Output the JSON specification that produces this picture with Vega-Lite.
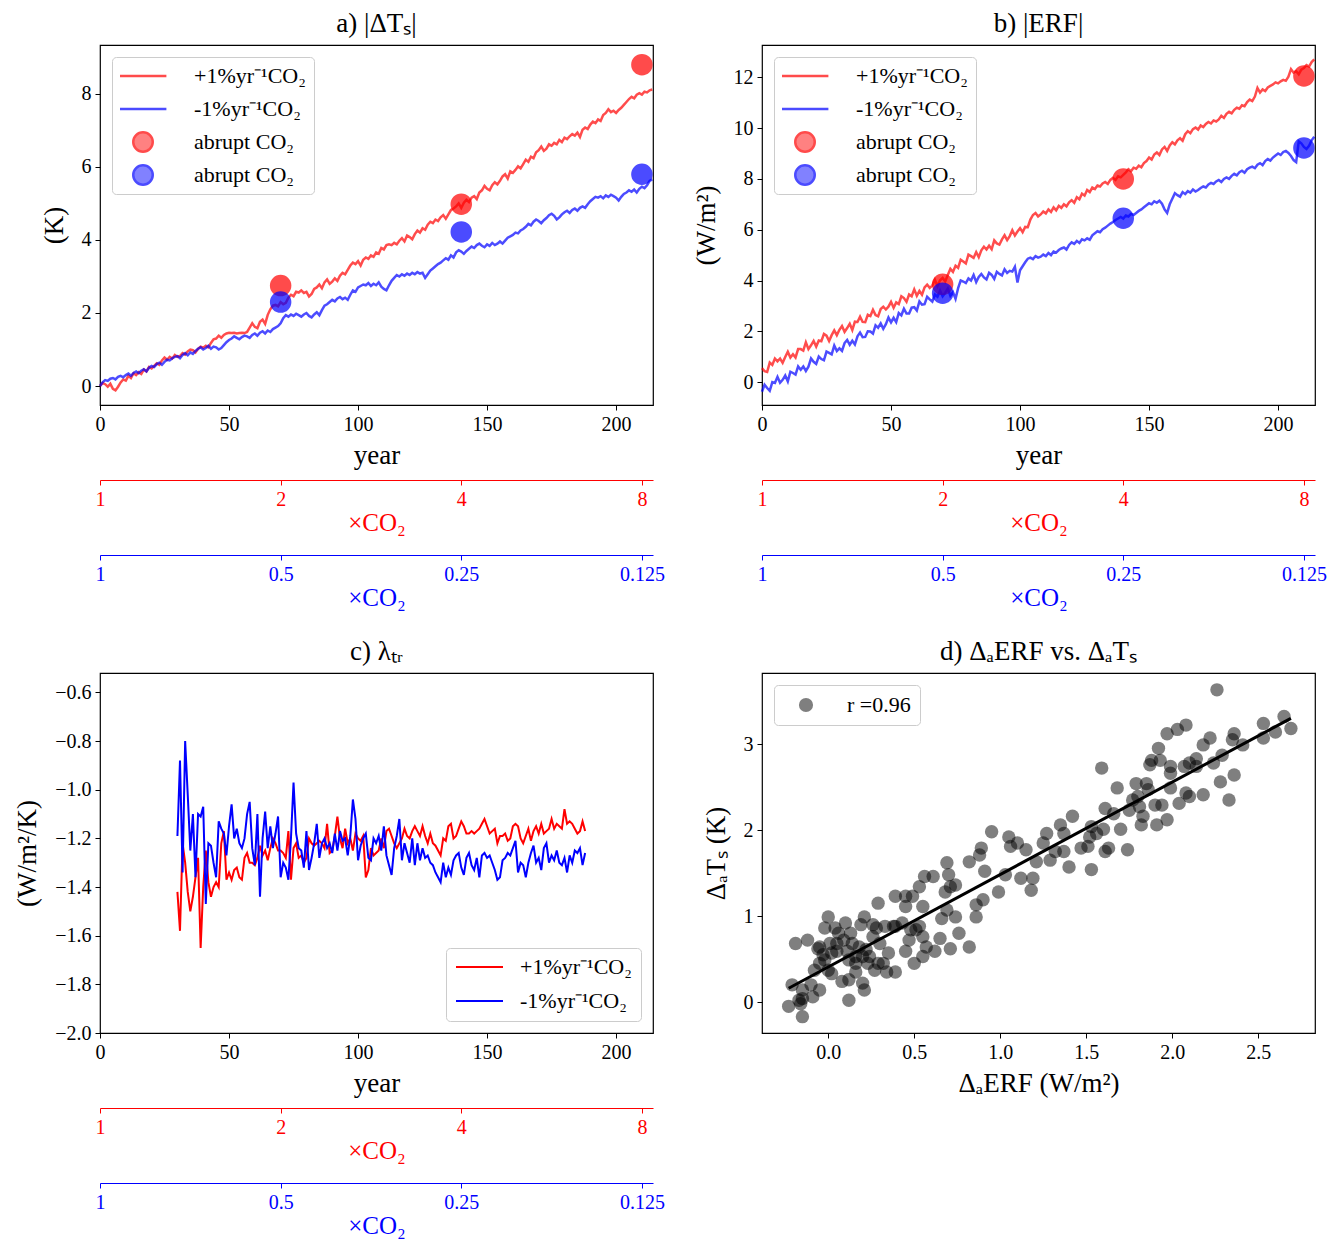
{
"$schema":"https://vega.github.io/schema/vega-lite/v6.json",
"background":"white",
"padding":{"left":13,"top":9,"right":5,"bottom":2},
"config":{
 "font":"Liberation Serif",
 "view":{"stroke":"black","strokeWidth":1.2},
 "axis":{"grid":false,"domain":false,"labelFont":"Liberation Serif","labelFontSize":20,"labelColor":"black","titleFont":"Liberation Serif","titleFontSize":27,"titleFontWeight":"normal","titleColor":"black","tickColor":"black","tickSize":5,"tickWidth":1,"labelPadding":4,"labelFlush":false,"labelOverlap":false,"titlePadding":8},
 "axisY":{"titlePadding":13},
 "title":{"font":"Liberation Serif","fontSize":27,"fontWeight":"normal","color":"black","offset":7,"frame":"group"},
 "legend":{"labelFont":"Liberation Serif","labelFontSize":22,"labelColor":"black","fillColor":"white","strokeColor":"#cccccc","cornerRadius":4,"padding":8}
},
"datasets":{
 "co2T":[{"t":0},{"t":70},{"t":140},{"t":210}],
 "ptsA":[{"t":70,"v":2.75,"s":"ua"},{"t":140,"v":4.98,"s":"ua"},{"t":210,"v":8.8,"s":"ua"},{"t":70,"v":2.3,"s":"da"},{"t":140,"v":4.22,"s":"da"},{"t":210,"v":5.8,"s":"da"}],
 "ptsB":[{"t":70,"v":3.85,"s":"ua"},{"t":140,"v":8.0,"s":"ua"},{"t":210,"v":12.05,"s":"ua"},{"t":70,"v":3.5,"s":"da"},{"t":140,"v":6.45,"s":"da"},{"t":210,"v":9.22,"s":"da"}],
 "lines":[
{"t":0,"ar":0,"ab":0,"br":0.55,"bb":-0.38},{"t":1,"ar":0.08,"ab":0.1,"br":0.43,"bb":-0.1},{"t":2,"ar":0.05,"ab":0.16,"br":0.4,"bb":-0.23},{"t":3,"ar":-0.02,"ab":0.14,"br":0.77,"bb":-0.34},{"t":4,"ar":0.06,"ab":0.2,"br":0.68,"bb":0.0},{"t":5,"ar":-0.08,"ab":0.22,"br":0.93,"bb":-0.03},{"t":6,"ar":-0.12,"ab":0.18,"br":0.82,"bb":0.21},{"t":7,"ar":-0.02,"ab":0.25,"br":0.93,"bb":-0.02},{"t":8,"ar":0.1,"ab":0.28,"br":0.76,"bb":0.09},{"t":9,"ar":0.18,"ab":0.24,"br":0.99,"bb":0.26},
{"t":10,"ar":0.15,"ab":0.3,"br":1.2,"bb":0.03},{"t":11,"ar":0.28,"ab":0.34,"br":0.97,"bb":0.41},{"t":12,"ar":0.22,"ab":0.28,"br":1.1,"bb":0.36},{"t":13,"ar":0.35,"ab":0.36,"br":0.97,"bb":0.3},{"t":14,"ar":0.3,"ab":0.4,"br":1.3,"bb":0.62},{"t":15,"ar":0.38,"ab":0.35,"br":1.3,"bb":0.49},{"t":16,"ar":0.33,"ab":0.42,"br":1.24,"bb":0.62},{"t":17,"ar":0.45,"ab":0.46,"br":1.57,"bb":0.44},{"t":18,"ar":0.4,"ab":0.4,"br":1.3,"bb":0.61},{"t":19,"ar":0.52,"ab":0.5,"br":1.45,"bb":0.93},
{"t":20,"ar":0.48,"ab":0.55,"br":1.62,"bb":0.8},{"t":21,"ar":0.55,"ab":0.52,"br":1.4,"bb":0.72},{"t":22,"ar":0.62,"ab":0.6,"br":1.64,"bb":1.01},{"t":23,"ar":0.58,"ab":0.64,"br":1.61,"bb":0.91},{"t":24,"ar":0.7,"ab":0.58,"br":1.9,"bb":0.86},{"t":25,"ar":0.78,"ab":0.66,"br":1.83,"bb":1.2},{"t":26,"ar":0.72,"ab":0.72,"br":1.62,"bb":1.15},{"t":27,"ar":0.8,"ab":0.7,"br":1.85,"bb":1.09},{"t":28,"ar":0.75,"ab":0.76,"br":2.04,"bb":1.44},{"t":29,"ar":0.85,"ab":0.8,"br":1.85,"bb":1.22},
{"t":30,"ar":0.8,"ab":0.82,"br":2.06,"bb":1.33},{"t":31,"ar":0.82,"ab":0.76,"br":2.21,"bb":1.23},{"t":32,"ar":0.9,"ab":0.85,"br":1.98,"bb":1.54},{"t":33,"ar":0.86,"ab":0.9,"br":2.13,"bb":1.66},{"t":34,"ar":0.95,"ab":0.84,"br":2.3,"bb":1.47},{"t":35,"ar":1.0,"ab":0.92,"br":2.05,"bb":1.63},{"t":36,"ar":0.98,"ab":0.88,"br":2.38,"bb":1.48},{"t":37,"ar":0.92,"ab":0.96,"br":2.37,"bb":1.8},{"t":38,"ar":1.02,"ab":1.02,"br":2.58,"bb":1.95},{"t":39,"ar":1.08,"ab":1.06,"br":2.37,"bb":1.77},
{"t":40,"ar":1.05,"ab":1.0,"br":2.36,"bb":1.78},{"t":41,"ar":1.1,"ab":1.04,"br":2.65,"bb":2.0},{"t":42,"ar":1.06,"ab":1.1,"br":2.6,"bb":1.99},{"t":43,"ar":1.18,"ab":1.02,"br":2.85,"bb":1.91},{"t":44,"ar":1.28,"ab":1.08,"br":2.64,"bb":2.24},{"t":45,"ar":1.3,"ab":1.06,"br":2.59,"bb":2.14},{"t":46,"ar":1.38,"ab":1.0,"br":2.88,"bb":2.31},{"t":47,"ar":1.32,"ab":1.04,"br":2.97,"bb":2.1},{"t":48,"ar":1.4,"ab":1.12,"br":2.86,"bb":2.28},{"t":49,"ar":1.44,"ab":1.2,"br":2.97,"bb":2.54},
{"t":50,"ar":1.46,"ab":1.26,"br":3.16,"bb":2.35},{"t":51,"ar":1.45,"ab":1.3,"br":2.93,"bb":2.53},{"t":52,"ar":1.46,"ab":1.36,"br":3.14,"bb":2.36},{"t":53,"ar":1.44,"ab":1.32,"br":3.07,"bb":2.72},{"t":54,"ar":1.45,"ab":1.28,"br":3.38,"bb":2.63},{"t":55,"ar":1.46,"ab":1.34,"br":3.31,"bb":2.89},{"t":56,"ar":1.45,"ab":1.38,"br":3.16,"bb":2.7},{"t":57,"ar":1.48,"ab":1.36,"br":3.45,"bb":2.7},{"t":58,"ar":1.6,"ab":1.32,"br":3.38,"bb":2.93},{"t":59,"ar":1.72,"ab":1.4,"br":3.65,"bb":2.95},
{"t":60,"ar":1.62,"ab":1.44,"br":3.4,"bb":2.82},{"t":61,"ar":1.58,"ab":1.38,"br":3.59,"bb":3.18},{"t":62,"ar":1.76,"ab":1.46,"br":3.44,"bb":3.05},{"t":63,"ar":1.82,"ab":1.5,"br":3.73,"bb":3.07},{"t":64,"ar":1.7,"ab":1.44,"br":3.84,"bb":3.36},{"t":65,"ar":1.95,"ab":1.52,"br":3.71,"bb":3.26},{"t":66,"ar":2.1,"ab":1.48,"br":3.8,"bb":3.17},{"t":67,"ar":2.2,"ab":1.56,"br":4.03,"bb":3.45},{"t":68,"ar":2.22,"ab":1.6,"br":3.78,"bb":3.36},{"t":69,"ar":2.18,"ab":1.64,"br":4.01,"bb":3.6},
{"t":70,"ar":2.3,"ab":1.72,"br":4.1,"bb":3.38},{"t":71,"ar":2.24,"ab":1.86,"br":3.96,"bb":3.52},{"t":72,"ar":2.28,"ab":1.94,"br":4.22,"bb":3.68},{"t":73,"ar":2.42,"ab":1.9,"br":4.46,"bb":3.4},{"t":74,"ar":2.5,"ab":1.96,"br":4.34,"bb":3.54},{"t":75,"ar":2.46,"ab":1.92,"br":4.58,"bb":3.28},{"t":76,"ar":2.58,"ab":1.98,"br":4.5,"bb":3.7},{"t":77,"ar":2.56,"ab":1.94,"br":4.82,"bb":4.0},{"t":78,"ar":2.62,"ab":1.9,"br":4.75,"bb":3.96},{"t":79,"ar":2.55,"ab":1.96,"br":4.67,"bb":3.9},
{"t":80,"ar":2.58,"ab":2.0,"br":5.02,"bb":4.08},{"t":81,"ar":2.45,"ab":1.92,"br":4.96,"bb":4.0},{"t":82,"ar":2.52,"ab":1.88,"br":4.89,"bb":4.22},{"t":83,"ar":2.66,"ab":1.96,"br":5.12,"bb":3.94},{"t":84,"ar":2.7,"ab":2.02,"br":4.92,"bb":4.14},{"t":85,"ar":2.78,"ab":1.94,"br":5.19,"bb":4.26},{"t":86,"ar":2.68,"ab":2.08,"br":5.33,"bb":4.12},{"t":87,"ar":2.84,"ab":2.2,"br":5.22,"bb":4.04},{"t":88,"ar":2.92,"ab":2.24,"br":5.37,"bb":4.3},{"t":89,"ar":2.8,"ab":2.3,"br":5.23,"bb":4.22},
{"t":90,"ar":2.86,"ab":2.36,"br":5.58,"bb":4.06},{"t":91,"ar":2.95,"ab":2.32,"br":5.46,"bb":4.34},{"t":92,"ar":2.88,"ab":2.4,"br":5.41,"bb":4.26},{"t":93,"ar":3.02,"ab":2.44,"br":5.62,"bb":4.2},{"t":94,"ar":3.1,"ab":2.38,"br":5.78,"bb":4.44},{"t":95,"ar":3.06,"ab":2.42,"br":5.59,"bb":4.3},{"t":96,"ar":3.18,"ab":2.36,"br":5.75,"bb":4.38},{"t":97,"ar":3.3,"ab":2.5,"br":5.98,"bb":4.35},{"t":98,"ar":3.38,"ab":2.62,"br":5.77,"bb":4.54},{"t":99,"ar":3.34,"ab":2.58,"br":5.93,"bb":3.92},
{"t":100,"ar":3.42,"ab":2.7,"br":6.06,"bb":4.4},{"t":101,"ar":3.3,"ab":2.74,"br":5.9,"bb":4.56},{"t":102,"ar":3.46,"ab":2.78,"br":6.11,"bb":4.72},{"t":103,"ar":3.52,"ab":2.76,"br":6.1,"bb":4.86},{"t":104,"ar":3.48,"ab":2.82,"br":6.4,"bb":4.9},{"t":105,"ar":3.58,"ab":2.74,"br":6.58,"bb":4.84},{"t":106,"ar":3.54,"ab":2.8,"br":6.66,"bb":4.96},{"t":107,"ar":3.66,"ab":2.76,"br":6.52,"bb":4.9},{"t":108,"ar":3.62,"ab":2.84,"br":6.6,"bb":4.94},{"t":109,"ar":3.78,"ab":2.72,"br":6.72,"bb":5.02},
{"t":110,"ar":3.74,"ab":2.66,"br":6.64,"bb":4.96},{"t":111,"ar":3.86,"ab":2.62,"br":6.8,"bb":5.08},{"t":112,"ar":3.88,"ab":2.76,"br":6.7,"bb":5.0},{"t":113,"ar":3.86,"ab":2.88,"br":6.88,"bb":5.14},{"t":114,"ar":3.92,"ab":2.96,"br":6.76,"bb":5.1},{"t":115,"ar":3.88,"ab":3.04,"br":6.94,"bb":5.2},{"t":116,"ar":3.98,"ab":3.0,"br":6.86,"bb":5.26},{"t":117,"ar":4.05,"ab":3.06,"br":7.0,"bb":5.3},{"t":118,"ar":3.96,"ab":3.02,"br":6.92,"bb":5.22},{"t":119,"ar":4.12,"ab":3.08,"br":7.08,"bb":5.4},
{"t":120,"ar":4.08,"ab":3.04,"br":7.16,"bb":5.5},{"t":121,"ar":4.02,"ab":3.1,"br":7.06,"bb":5.44},{"t":122,"ar":4.16,"ab":3.06,"br":7.28,"bb":5.56},{"t":123,"ar":4.26,"ab":3.12,"br":7.2,"bb":5.48},{"t":124,"ar":4.2,"ab":3.08,"br":7.42,"bb":5.62},{"t":125,"ar":4.32,"ab":3.1,"br":7.34,"bb":5.58},{"t":126,"ar":4.28,"ab":2.96,"br":7.56,"bb":5.66},{"t":127,"ar":4.42,"ab":3.06,"br":7.48,"bb":5.6},{"t":128,"ar":4.5,"ab":3.16,"br":7.66,"bb":5.78},{"t":129,"ar":4.46,"ab":3.22,"br":7.6,"bb":5.86},
{"t":130,"ar":4.56,"ab":3.28,"br":7.74,"bb":5.94},{"t":131,"ar":4.52,"ab":3.34,"br":7.7,"bb":5.9},{"t":132,"ar":4.62,"ab":3.38,"br":7.82,"bb":6.02},{"t":133,"ar":4.68,"ab":3.44,"br":7.88,"bb":6.08},{"t":134,"ar":4.58,"ab":3.5,"br":7.8,"bb":6.16},{"t":135,"ar":4.7,"ab":3.46,"br":7.96,"bb":6.24},{"t":136,"ar":4.82,"ab":3.58,"br":8.04,"bb":6.3},{"t":137,"ar":4.86,"ab":3.52,"br":7.96,"bb":6.38},{"t":138,"ar":4.92,"ab":3.66,"br":8.1,"bb":6.44},{"t":139,"ar":5.0,"ab":3.72,"br":8.06,"bb":6.5},
{"t":140,"ar":4.88,"ab":3.68,"br":8.16,"bb":6.44},{"t":141,"ar":5.02,"ab":3.62,"br":8.26,"bb":6.56},{"t":142,"ar":5.1,"ab":3.7,"br":8.38,"bb":6.52},{"t":143,"ar":5.04,"ab":3.76,"br":8.3,"bb":6.62},{"t":144,"ar":5.16,"ab":3.82,"br":8.44,"bb":6.58},{"t":145,"ar":5.2,"ab":3.78,"br":8.4,"bb":6.66},{"t":146,"ar":5.12,"ab":3.86,"br":8.52,"bb":6.74},{"t":147,"ar":5.3,"ab":3.9,"br":8.46,"bb":6.8},{"t":148,"ar":5.36,"ab":3.84,"br":8.62,"bb":6.88},{"t":149,"ar":5.48,"ab":3.8,"br":8.7,"bb":6.96},
{"t":150,"ar":5.4,"ab":3.88,"br":8.84,"bb":7.04},{"t":151,"ar":5.36,"ab":3.84,"br":8.76,"bb":7.0},{"t":152,"ar":5.5,"ab":3.92,"br":8.96,"bb":7.12},{"t":153,"ar":5.58,"ab":3.86,"br":9.04,"bb":7.06},{"t":154,"ar":5.52,"ab":3.9,"br":8.94,"bb":7.14},{"t":155,"ar":5.62,"ab":3.96,"br":9.16,"bb":7.02},{"t":156,"ar":5.74,"ab":3.9,"br":9.26,"bb":6.8},{"t":157,"ar":5.8,"ab":3.98,"br":9.1,"bb":6.66},{"t":158,"ar":5.68,"ab":4.06,"br":9.32,"bb":7.0},{"t":159,"ar":5.88,"ab":4.1,"br":9.44,"bb":7.22},
{"t":160,"ar":5.84,"ab":4.14,"br":9.36,"bb":7.44},{"t":161,"ar":5.92,"ab":4.2,"br":9.52,"bb":7.36},{"t":162,"ar":6.02,"ab":4.18,"br":9.6,"bb":7.3},{"t":163,"ar":5.96,"ab":4.26,"br":9.5,"bb":7.48},{"t":164,"ar":6.08,"ab":4.3,"br":9.76,"bb":7.4},{"t":165,"ar":6.2,"ab":4.36,"br":9.88,"bb":7.52},{"t":166,"ar":6.14,"ab":4.44,"br":9.8,"bb":7.46},{"t":167,"ar":6.28,"ab":4.4,"br":9.96,"bb":7.58},{"t":168,"ar":6.24,"ab":4.5,"br":10.02,"bb":7.5},{"t":169,"ar":6.4,"ab":4.56,"br":9.94,"bb":7.56},
{"t":170,"ar":6.46,"ab":4.52,"br":10.1,"bb":7.64},{"t":171,"ar":6.56,"ab":4.46,"br":10.04,"bb":7.7},{"t":172,"ar":6.44,"ab":4.54,"br":10.16,"bb":7.66},{"t":173,"ar":6.5,"ab":4.6,"br":10.24,"bb":7.78},{"t":174,"ar":6.62,"ab":4.68,"br":10.18,"bb":7.84},{"t":175,"ar":6.58,"ab":4.72,"br":10.3,"bb":7.8},{"t":176,"ar":6.66,"ab":4.66,"br":10.26,"bb":7.9},{"t":177,"ar":6.62,"ab":4.56,"br":10.34,"bb":7.96},{"t":178,"ar":6.74,"ab":4.62,"br":10.48,"bb":7.88},{"t":179,"ar":6.68,"ab":4.7,"br":10.4,"bb":8.0},
{"t":180,"ar":6.8,"ab":4.76,"br":10.56,"bb":8.06},{"t":181,"ar":6.76,"ab":4.8,"br":10.64,"bb":8.0},{"t":182,"ar":6.84,"ab":4.74,"br":10.58,"bb":8.12},{"t":183,"ar":6.9,"ab":4.82,"br":10.72,"bb":8.2},{"t":184,"ar":6.86,"ab":4.86,"br":10.8,"bb":8.14},{"t":185,"ar":6.94,"ab":4.8,"br":10.76,"bb":8.26},{"t":186,"ar":6.82,"ab":4.88,"br":10.9,"bb":8.32},{"t":187,"ar":7.02,"ab":4.92,"br":10.86,"bb":8.24},{"t":188,"ar":7.08,"ab":4.88,"br":11.02,"bb":8.38},{"t":189,"ar":7.04,"ab":4.98,"br":11.12,"bb":8.44},
{"t":190,"ar":7.16,"ab":5.06,"br":11.06,"bb":8.48},{"t":191,"ar":7.24,"ab":5.12,"br":11.24,"bb":8.42},{"t":192,"ar":7.2,"ab":5.18,"br":11.58,"bb":8.56},{"t":193,"ar":7.3,"ab":5.16,"br":11.4,"bb":8.62},{"t":194,"ar":7.26,"ab":5.2,"br":11.52,"bb":8.54},{"t":195,"ar":7.42,"ab":5.14,"br":11.46,"bb":8.7},{"t":196,"ar":7.48,"ab":5.22,"br":11.6,"bb":8.78},{"t":197,"ar":7.58,"ab":5.18,"br":11.66,"bb":8.72},{"t":198,"ar":7.5,"ab":5.24,"br":11.72,"bb":8.84},{"t":199,"ar":7.54,"ab":5.2,"br":11.8,"bb":8.92},
{"t":200,"ar":7.48,"ab":5.16,"br":11.76,"bb":9.0},{"t":201,"ar":7.56,"ab":5.08,"br":11.84,"bb":8.94},{"t":202,"ar":7.62,"ab":5.18,"br":11.9,"bb":9.06},{"t":203,"ar":7.7,"ab":5.26,"br":11.86,"bb":9.1},{"t":204,"ar":7.78,"ab":5.3,"br":12.02,"bb":9.02},{"t":205,"ar":7.86,"ab":5.36,"br":12.32,"bb":8.9},{"t":206,"ar":7.92,"ab":5.32,"br":12.18,"bb":8.74},{"t":207,"ar":7.88,"ab":5.38,"br":12.24,"bb":8.66},{"t":208,"ar":7.98,"ab":5.3,"br":12.12,"bb":9.48},{"t":209,"ar":8.02,"ab":5.4,"br":12.3,"bb":9.4},
{"t":210,"ar":7.98,"ab":5.46,"br":12.36,"bb":9.26},{"t":211,"ar":8.06,"ab":5.42,"br":12.48,"bb":9.18},{"t":212,"ar":8.04,"ab":5.5,"br":12.42,"bb":9.3},{"t":213,"ar":8.1,"ab":5.62,"br":12.6,"bb":9.52},{"t":214,"ar":8.12,"ab":5.66,"br":12.7,"bb":9.66}
 ],
 "lam":[
{"t":30,"r":-1.42,"b":-1.19},{"t":31,"r":-1.58,"b":-0.88},{"t":32,"r":-1.22,"b":-1.34},{"t":33,"r":-1.3,"b":-0.8},{"t":34,"r":-1.42,"b":-1.02},{"t":35,"r":-1.5,"b":-1.25},{"t":36,"r":-1.44,"b":-1.1},{"t":37,"r":-1.36,"b":-1.36},{"t":38,"r":-1.28,"b":-1.1},{"t":39,"r":-1.65,"b":-1.11},
{"t":40,"r":-1.4,"b":-1.07},{"t":41,"r":-1.25,"b":-1.47},{"t":42,"r":-1.38,"b":-1.22},{"t":43,"r":-1.44,"b":-1.23},{"t":44,"r":-1.4,"b":-1.3},{"t":45,"r":-1.38,"b":-1.36},{"t":46,"r":-1.4,"b":-1.13},{"t":47,"r":-1.22,"b":-1.16},{"t":48,"r":-1.17,"b":-1.18},{"t":49,"r":-1.37,"b":-1.27},
{"t":50,"r":-1.34,"b":-1.15},{"t":51,"r":-1.37,"b":-1.06},{"t":52,"r":-1.33,"b":-1.2},{"t":53,"r":-1.32,"b":-1.16},{"t":54,"r":-1.36,"b":-1.22},{"t":55,"r":-1.37,"b":-1.24},{"t":56,"r":-1.28,"b":-1.2},{"t":57,"r":-1.26,"b":-1.1},{"t":58,"r":-1.3,"b":-1.05},{"t":59,"r":-1.3,"b":-1.24},
{"t":60,"r":-1.31,"b":-1.31},{"t":61,"r":-1.28,"b":-1.1},{"t":62,"r":-1.23,"b":-1.44},{"t":63,"r":-1.27,"b":-1.2},{"t":64,"r":-1.25,"b":-1.09},{"t":65,"r":-1.29,"b":-1.24},{"t":66,"r":-1.24,"b":-1.15},{"t":67,"r":-1.2,"b":-1.24},{"t":68,"r":-1.22,"b":-1.18},{"t":69,"r":-1.25,"b":-1.11},
{"t":70,"r":-1.25,"b":-1.36},{"t":71,"r":-1.26,"b":-1.3},{"t":72,"r":-1.28,"b":-1.32},{"t":73,"r":-1.17,"b":-1.37},{"t":74,"r":-1.37,"b":-1.2},{"t":75,"r":-1.24,"b":-0.97},{"t":76,"r":-1.22,"b":-1.18},{"t":77,"r":-1.28,"b":-1.24},{"t":78,"r":-1.27,"b":-1.25},{"t":79,"r":-1.3,"b":-1.32},
{"t":80,"r":-1.28,"b":-1.17},{"t":81,"r":-1.2,"b":-1.33},{"t":82,"r":-1.22,"b":-1.28},{"t":83,"r":-1.23,"b":-1.22},{"t":84,"r":-1.22,"b":-1.14},{"t":85,"r":-1.21,"b":-1.28},{"t":86,"r":-1.22,"b":-1.22},{"t":87,"r":-1.24,"b":-1.2},{"t":88,"r":-1.14,"b":-1.24},{"t":89,"r":-1.26,"b":-1.22},
{"t":90,"r":-1.25,"b":-1.26},{"t":91,"r":-1.19,"b":-1.18},{"t":92,"r":-1.11,"b":-1.25},{"t":93,"r":-1.2,"b":-1.17},{"t":94,"r":-1.24,"b":-1.21},{"t":95,"r":-1.16,"b":-1.2},{"t":96,"r":-1.22,"b":-1.27},{"t":97,"r":-1.2,"b":-1.19},{"t":98,"r":-1.25,"b":-1.04},{"t":99,"r":-1.18,"b":-1.12},
{"t":100,"r":-1.2,"b":-1.29},{"t":101,"r":-1.21,"b":-1.23},{"t":102,"r":-1.19,"b":-1.2},{"t":103,"r":-1.36,"b":-1.18},{"t":104,"r":-1.33,"b":-1.28},{"t":105,"r":-1.24,"b":-1.29},{"t":106,"r":-1.27,"b":-1.2},{"t":107,"r":-1.26,"b":-1.22},{"t":108,"r":-1.25,"b":-1.19},{"t":109,"r":-1.2,"b":-1.25},
{"t":110,"r":-1.24,"b":-1.15},{"t":111,"r":-1.17,"b":-1.27},{"t":112,"r":-1.16,"b":-1.31},{"t":113,"r":-1.19,"b":-1.35},{"t":114,"r":-1.22,"b":-1.24},{"t":115,"r":-1.24,"b":-1.19},{"t":116,"r":-1.22,"b":-1.12},{"t":117,"r":-1.2,"b":-1.29},{"t":118,"r":-1.16,"b":-1.22},{"t":119,"r":-1.19,"b":-1.26},
{"t":120,"r":-1.2,"b":-1.3},{"t":121,"r":-1.17,"b":-1.2},{"t":122,"r":-1.15,"b":-1.31},{"t":123,"r":-1.17,"b":-1.22},{"t":124,"r":-1.19,"b":-1.29},{"t":125,"r":-1.15,"b":-1.24},{"t":126,"r":-1.19,"b":-1.28},{"t":127,"r":-1.22,"b":-1.27},{"t":128,"r":-1.18,"b":-1.3},{"t":129,"r":-1.22,"b":-1.31},
{"t":130,"r":-1.23,"b":-1.34},{"t":131,"r":-1.25,"b":-1.36},{"t":132,"r":-1.27,"b":-1.38},{"t":133,"r":-1.2,"b":-1.3},{"t":134,"r":-1.21,"b":-1.36},{"t":135,"r":-1.15,"b":-1.32},{"t":136,"r":-1.14,"b":-1.35},{"t":137,"r":-1.2,"b":-1.29},{"t":138,"r":-1.19,"b":-1.27},{"t":139,"r":-1.16,"b":-1.26},
{"t":140,"r":-1.13,"b":-1.32},{"t":141,"r":-1.15,"b":-1.35},{"t":142,"r":-1.18,"b":-1.28},{"t":143,"r":-1.18,"b":-1.26},{"t":144,"r":-1.17,"b":-1.31},{"t":145,"r":-1.18,"b":-1.33},{"t":146,"r":-1.17,"b":-1.28},{"t":147,"r":-1.16,"b":-1.36},{"t":148,"r":-1.14,"b":-1.27},{"t":149,"r":-1.12,"b":-1.26},
{"t":150,"r":-1.15,"b":-1.28},{"t":151,"r":-1.18,"b":-1.27},{"t":152,"r":-1.17,"b":-1.3},{"t":153,"r":-1.16,"b":-1.33},{"t":154,"r":-1.22,"b":-1.37},{"t":155,"r":-1.19,"b":-1.36},{"t":156,"r":-1.19,"b":-1.29},{"t":157,"r":-1.18,"b":-1.28},{"t":158,"r":-1.21,"b":-1.26},{"t":159,"r":-1.2,"b":-1.27},
{"t":160,"r":-1.15,"b":-1.24},{"t":161,"r":-1.14,"b":-1.21},{"t":162,"r":-1.15,"b":-1.34},{"t":163,"r":-1.2,"b":-1.3},{"t":164,"r":-1.22,"b":-1.31},{"t":165,"r":-1.19,"b":-1.36},{"t":166,"r":-1.16,"b":-1.3},{"t":167,"r":-1.21,"b":-1.26},{"t":168,"r":-1.17,"b":-1.23},{"t":169,"r":-1.15,"b":-1.3},
{"t":170,"r":-1.18,"b":-1.28},{"t":171,"r":-1.14,"b":-1.33},{"t":172,"r":-1.18,"b":-1.24},{"t":173,"r":-1.17,"b":-1.22},{"t":174,"r":-1.16,"b":-1.3},{"t":175,"r":-1.12,"b":-1.27},{"t":176,"r":-1.16,"b":-1.29},{"t":177,"r":-1.14,"b":-1.25},{"t":178,"r":-1.15,"b":-1.3},{"t":179,"r":-1.16,"b":-1.31},
{"t":180,"r":-1.08,"b":-1.28},{"t":181,"r":-1.14,"b":-1.34},{"t":182,"r":-1.13,"b":-1.27},{"t":183,"r":-1.14,"b":-1.3},{"t":184,"r":-1.16,"b":-1.25},{"t":185,"r":-1.18,"b":-1.26},{"t":186,"r":-1.17,"b":-1.24},{"t":187,"r":-1.13,"b":-1.31},{"t":188,"r":-1.17,"b":-1.26}
 ],
 "sc":[
{"x":0.95,"y":1.98},{"x":1.05,"y":1.92},{"x":1.06,"y":1.81},{"x":1.1,"y":1.85},{"x":1.15,"y":1.77},{"x":0.89,"y":1.79},{"x":0.88,"y":1.71},{"x":0.82,"y":1.63},{"x":0.69,"y":1.62},{"x":0.91,"y":1.52},
{"x":1.03,"y":1.48},{"x":1.12,"y":1.44},{"x":1.19,"y":1.44},{"x":1.18,"y":1.3},{"x":0.99,"y":1.28},{"x":0.56,"y":1.46},{"x":0.53,"y":1.34},{"x":0.61,"y":1.46},{"x":0.7,"y":1.48},{"x":0.71,"y":1.34},
{"x":0.74,"y":1.36},{"x":0.68,"y":1.28},{"x":0.49,"y":1.23},{"x":0.39,"y":1.23},{"x":0.45,"y":1.23},{"x":0.45,"y":1.11},{"x":0.55,"y":1.11},{"x":0.29,"y":1.15},{"x":0.86,"y":1.13},{"x":0.9,"y":1.19},
{"x":0.86,"y":0.99},{"x":0.74,"y":0.99},{"x":0.69,"y":1.07},{"x":0.66,"y":0.97},{"x":0.82,"y":0.64},{"x":0.76,"y":0.8},{"x":0.65,"y":0.74},{"x":0.71,"y":0.62},{"x":0.62,"y":0.59},{"x":0.57,"y":0.64},
{"x":0.55,"y":0.76},{"x":0.53,"y":0.88},{"x":0.51,"y":0.84},{"x":0.48,"y":0.84},{"x":0.43,"y":0.92},{"x":0.39,"y":0.88},{"x":0.38,"y":0.88},{"x":0.33,"y":0.88},{"x":0.26,"y":0.9},{"x":0.28,"y":0.86},
{"x":0.21,"y":0.99},{"x":0.19,"y":0.9},{"x":0.26,"y":0.76},{"x":0.3,"y":0.68},{"x":0.35,"y":0.57},{"x":0.45,"y":0.59},{"x":0.47,"y":0.72},{"x":0.5,"y":0.45},{"x":0.55,"y":0.53},{"x":0.39,"y":0.35},
{"x":0.34,"y":0.35},{"x":0.29,"y":0.45},{"x":0.27,"y":0.37},{"x":0.24,"y":0.53},{"x":0.22,"y":0.61},{"x":0.18,"y":0.64},{"x":0.14,"y":0.68},{"x":0.13,"y":0.8},{"x":0.1,"y":0.92},{"x":0.06,"y":0.8},
{"x":0.04,"y":0.86},{"x":-0.02,"y":0.86},{"x":0.0,"y":0.99},{"x":-0.05,"y":0.64},{"x":-0.03,"y":0.55},{"x":-0.02,"y":0.49},{"x":0.02,"y":0.57},{"x":0.05,"y":0.59},{"x":0.05,"y":0.68},{"x":0.01,"y":0.68},
{"x":0.09,"y":0.72},{"x":0.11,"y":0.59},{"x":0.12,"y":0.49},{"x":0.16,"y":0.53},{"x":0.16,"y":0.45},{"x":0.2,"y":0.53},{"x":0.23,"y":0.45},{"x":0.16,"y":0.35},{"x":0.12,"y":0.26},{"x":0.08,"y":0.24},
{"x":0.02,"y":0.33},{"x":0.0,"y":0.37},{"x":-0.05,"y":0.45},{"x":-0.08,"y":0.37},{"x":-0.19,"y":0.68},{"x":-0.12,"y":0.72},{"x":-0.06,"y":0.62},{"x":-0.1,"y":0.2},{"x":-0.15,"y":0.14},{"x":-0.21,"y":0.2},
{"x":-0.15,"y":0.04},{"x":-0.17,"y":0.02},{"x":-0.09,"y":0.06},{"x":-0.05,"y":0.14},{"x":-0.23,"y":-0.05},{"x":-0.15,"y":-0.17},{"x":-0.16,"y":-0.02},{"x":0.12,"y":0.02},{"x":0.2,"y":0.22},{"x":0.21,"y":0.14},
{"x":0.32,"y":0.45},
{"x":2.26,"y":3.63},{"x":2.65,"y":3.32},{"x":2.69,"y":3.18},{"x":2.53,"y":3.24},{"x":2.6,"y":3.14},{"x":2.53,"y":3.07},{"x":2.36,"y":3.12},{"x":2.35,"y":3.05},{"x":2.41,"y":2.99},{"x":2.18,"y":2.99},
{"x":2.22,"y":3.07},{"x":2.08,"y":3.22},{"x":2.03,"y":3.17},{"x":1.97,"y":3.12},{"x":1.92,"y":2.95},{"x":1.88,"y":2.81},{"x":1.87,"y":2.76},{"x":1.93,"y":2.81},{"x":1.99,"y":2.74},{"x":2.07,"y":2.74},
{"x":2.1,"y":2.78},{"x":2.14,"y":2.83},{"x":2.14,"y":2.74},{"x":1.99,"y":2.66},{"x":2.24,"y":2.78},{"x":2.29,"y":2.87},{"x":2.36,"y":2.64},{"x":2.28,"y":2.56},{"x":2.33,"y":2.35},{"x":2.18,"y":2.41},
{"x":2.1,"y":2.39},{"x":2.08,"y":2.43},{"x":2.04,"y":2.31},{"x":1.99,"y":2.49},{"x":1.94,"y":2.29},{"x":1.9,"y":2.29},{"x":1.85,"y":2.54},{"x":1.86,"y":2.47},{"x":1.79,"y":2.54},{"x":1.8,"y":2.39},
{"x":1.77,"y":2.35},{"x":1.75,"y":2.23},{"x":1.81,"y":2.27},{"x":1.83,"y":2.16},{"x":1.91,"y":2.06},{"x":1.97,"y":2.12},{"x":1.82,"y":2.06},{"x":1.7,"y":2.01},{"x":1.68,"y":2.49},{"x":1.59,"y":2.72},
{"x":1.61,"y":2.25},{"x":1.66,"y":2.19},{"x":1.56,"y":1.96},{"x":1.53,"y":2.04},{"x":1.6,"y":2.01},{"x":1.52,"y":1.92},{"x":1.42,"y":2.16},{"x":1.35,"y":2.06},{"x":1.37,"y":1.96},{"x":1.27,"y":1.96},
{"x":1.25,"y":1.85},{"x":1.32,"y":1.75},{"x":1.29,"y":1.65},{"x":1.21,"y":1.63},{"x":1.4,"y":1.57},{"x":1.53,"y":1.54},{"x":1.47,"y":1.79},{"x":1.51,"y":1.81},{"x":1.63,"y":1.79},{"x":1.61,"y":1.75},
{"x":1.74,"y":1.77},{"x":1.37,"y":1.75}
 ]
},
"resolve":{"scale":{"color":"independent","fill":"independent","stroke":"independent","shape":"independent"},"legend":{"color":"independent","fill":"independent","stroke":"independent","shape":"independent"}},
"concat":[
 {
  "width":553,"height":360,
  "title":"a) |ΔTₛ|",
  "layer":[
   {"data":{"name":"lines"},"mark":{"type":"line","color":"red","opacity":0.7,"strokeWidth":2.5},
    "encoding":{"x":{"field":"t","type":"quantitative","scale":{"domain":[0,214.3],"nice":false,"zero":false},"axis":{"title":"year","values":[0,50,100,150,200],"orient":"bottom"}},
                "y":{"field":"ar","type":"quantitative","scale":{"domain":[-0.52,9.34],"nice":false,"zero":false},"axis":{"title":"(K)","values":[0,2,4,6,8]}}}},
   {"data":{"name":"lines"},"mark":{"type":"line","color":"blue","opacity":0.7,"strokeWidth":2.5},
    "encoding":{"x":{"field":"t","type":"quantitative","axis":null},
                "y":{"field":"ab","type":"quantitative","axis":{"title":"(K)","values":[0,2,4,6,8]}}}},
   {"data":{"name":"ptsA"},"mark":{"type":"point","filled":true,"opacity":0.7,"size":380,"strokeWidth":2},
    "encoding":{"x":{"field":"t","type":"quantitative","axis":null},
                "y":{"field":"v","type":"quantitative","axis":{"title":"(K)","values":[0,2,4,6,8]}},
                "fill":{"field":"s","type":"nominal","scale":{"domain":["u","d","ua","da"],"range":["red","blue","red","blue"]},
                        "legend":{"title":null,"orient":"top-left","offset":12,"symbolSize":380,"symbolStrokeWidth":2.5,"symbolOffset":12,"clipHeight":22,"rowPadding":11,"labelOffset":40,
                                  "labelExpr":"datum.label=='u'?'+1%yr⁻¹CO₂':datum.label=='d'?'-1%yr⁻¹CO₂':'abrupt CO₂'"}},
                "stroke":{"field":"s","type":"nominal","scale":{"domain":["u","d","ua","da"],"range":["red","blue","red","blue"]},
                        "legend":{"title":null,"orient":"top-left","offset":12,"symbolSize":380,"symbolStrokeWidth":2.5,"symbolOffset":12,"clipHeight":22,"rowPadding":11,"labelOffset":40,
                                  "labelExpr":"datum.label=='u'?'+1%yr⁻¹CO₂':datum.label=='d'?'-1%yr⁻¹CO₂':'abrupt CO₂'"}},
                "shape":{"field":"s","type":"nominal","scale":{"domain":["u","d","ua","da"],"range":["M-2.4,0H2.4","M-2.4,0H2.4","circle","circle"]},
                        "legend":{"title":null,"orient":"top-left","offset":12,"symbolSize":380,"symbolStrokeWidth":2.5,"symbolOffset":12,"clipHeight":22,"rowPadding":11,"labelOffset":40,
                                  "labelExpr":"datum.label=='u'?'+1%yr⁻¹CO₂':datum.label=='d'?'-1%yr⁻¹CO₂':'abrupt CO₂'"}}}},
   {"data":{"name":"co2T"},"mark":{"type":"point","opacity":0},
    "encoding":{"x":{"field":"t","type":"quantitative",
      "axis":{"orient":"bottom","offset":75,"values":[0,70,140,210],"labelExpr":"datum.value==0?'1':datum.value==70?'2':datum.value==140?'4':'8'","title":"×CO₂","titleFontSize":25,"domain":true,"domainColor":"red","domainWidth":1.2,"tickColor":"red","labelColor":"red","titleColor":"red","titlePadding":1}},
      "y":{"datum":0,"type":"quantitative","axis":{"title":"(K)","values":[0,2,4,6,8]}}}},
   {"data":{"name":"co2T"},"mark":{"type":"point","opacity":0},
    "encoding":{"x":{"field":"t","type":"quantitative",
      "axis":{"orient":"bottom","offset":150,"values":[0,70,140,210],"labelExpr":"datum.value==0?'1':datum.value==70?'0.5':datum.value==140?'0.25':'0.125'","title":"×CO₂","titleFontSize":25,"domain":true,"domainColor":"blue","domainWidth":1.2,"tickColor":"blue","labelColor":"blue","titleColor":"blue","titlePadding":1}},
      "y":{"datum":0,"type":"quantitative","axis":{"title":"(K)","values":[0,2,4,6,8]}}}}
  ],
  "resolve":{"axis":{"x":"independent"}}
 },
 {
  "width":553,"height":360,
  "title":"b) |ERF|",
  "layer":[
   {"data":{"name":"lines"},"mark":{"type":"line","color":"red","opacity":0.7,"strokeWidth":2.5},
    "encoding":{"x":{"field":"t","type":"quantitative","scale":{"domain":[0,214.3],"nice":false,"zero":false},"axis":{"title":"year","values":[0,50,100,150,200],"orient":"bottom"}},
                "y":{"field":"br","type":"quantitative","scale":{"domain":[-0.9,13.27],"nice":false,"zero":false},"axis":{"title":"(W/m²)","values":[0,2,4,6,8,10,12]}}}},
   {"data":{"name":"lines"},"mark":{"type":"line","color":"blue","opacity":0.7,"strokeWidth":2.5},
    "encoding":{"x":{"field":"t","type":"quantitative","axis":null},
                "y":{"field":"bb","type":"quantitative","axis":{"title":"(W/m²)","values":[0,2,4,6,8,10,12]}}}},
   {"data":{"name":"ptsB"},"mark":{"type":"point","filled":true,"opacity":0.7,"size":380,"strokeWidth":2},
    "encoding":{"x":{"field":"t","type":"quantitative","axis":null},
                "y":{"field":"v","type":"quantitative","axis":{"title":"(W/m²)","values":[0,2,4,6,8,10,12]}},
                "fill":{"field":"s","type":"nominal","scale":{"domain":["u","d","ua","da"],"range":["red","blue","red","blue"]},
                        "legend":{"title":null,"orient":"top-left","offset":12,"symbolSize":380,"symbolStrokeWidth":2.5,"symbolOffset":12,"clipHeight":22,"rowPadding":11,"labelOffset":40,
                                  "labelExpr":"datum.label=='u'?'+1%yr⁻¹CO₂':datum.label=='d'?'-1%yr⁻¹CO₂':'abrupt CO₂'"}},
                "stroke":{"field":"s","type":"nominal","scale":{"domain":["u","d","ua","da"],"range":["red","blue","red","blue"]},
                        "legend":{"title":null,"orient":"top-left","offset":12,"symbolSize":380,"symbolStrokeWidth":2.5,"symbolOffset":12,"clipHeight":22,"rowPadding":11,"labelOffset":40,
                                  "labelExpr":"datum.label=='u'?'+1%yr⁻¹CO₂':datum.label=='d'?'-1%yr⁻¹CO₂':'abrupt CO₂'"}},
                "shape":{"field":"s","type":"nominal","scale":{"domain":["u","d","ua","da"],"range":["M-2.4,0H2.4","M-2.4,0H2.4","circle","circle"]},
                        "legend":{"title":null,"orient":"top-left","offset":12,"symbolSize":380,"symbolStrokeWidth":2.5,"symbolOffset":12,"clipHeight":22,"rowPadding":11,"labelOffset":40,
                                  "labelExpr":"datum.label=='u'?'+1%yr⁻¹CO₂':datum.label=='d'?'-1%yr⁻¹CO₂':'abrupt CO₂'"}}}},
   {"data":{"name":"co2T"},"mark":{"type":"point","opacity":0},
    "encoding":{"x":{"field":"t","type":"quantitative",
      "axis":{"orient":"bottom","offset":75,"values":[0,70,140,210],"labelExpr":"datum.value==0?'1':datum.value==70?'2':datum.value==140?'4':'8'","title":"×CO₂","titleFontSize":25,"domain":true,"domainColor":"red","domainWidth":1.2,"tickColor":"red","labelColor":"red","titleColor":"red","titlePadding":1}},
      "y":{"datum":0,"type":"quantitative","axis":{"title":"(W/m²)","values":[0,2,4,6,8,10,12]}}}},
   {"data":{"name":"co2T"},"mark":{"type":"point","opacity":0},
    "encoding":{"x":{"field":"t","type":"quantitative",
      "axis":{"orient":"bottom","offset":150,"values":[0,70,140,210],"labelExpr":"datum.value==0?'1':datum.value==70?'0.5':datum.value==140?'0.25':'0.125'","title":"×CO₂","titleFontSize":25,"domain":true,"domainColor":"blue","domainWidth":1.2,"tickColor":"blue","labelColor":"blue","titleColor":"blue","titlePadding":1}},
      "y":{"datum":0,"type":"quantitative","axis":{"title":"(W/m²)","values":[0,2,4,6,8,10,12]}}}}
  ],
  "resolve":{"axis":{"x":"independent"}}
 },
 {
  "width":553,"height":360,
  "title":"c) λₜᵣ",
  "layer":[
   {"data":{"name":"lam"},"mark":{"type":"line","strokeWidth":2},
    "encoding":{"x":{"field":"t","type":"quantitative","scale":{"domain":[0,214.3],"nice":false,"zero":false},"axis":{"title":"year","values":[0,50,100,150,200],"orient":"bottom"}},
                "y":{"field":"r","type":"quantitative","scale":{"domain":[-2,-0.52],"nice":false,"zero":false},"axis":{"title":"(W/m²/K)","values":[-2,-1.8,-1.6,-1.4,-1.2,-1,-0.8,-0.6],"format":".1f"}},
                "color":{"datum":"r","type":"nominal","scale":{"domain":["r","b"],"range":["red","blue"]},
                         "legend":{"title":null,"orient":"bottom-right","offset":12,"symbolSize":2209,"symbolStrokeWidth":2,"clipHeight":20,"rowPadding":12,"labelOffset":16,"padding":9,"labelExpr":"datum.label=='r'?'+1%yr⁻¹CO₂':'-1%yr⁻¹CO₂'"}}}},
   {"data":{"name":"lam"},"mark":{"type":"line","strokeWidth":2},
    "encoding":{"x":{"field":"t","type":"quantitative","axis":null},
                "y":{"field":"b","type":"quantitative","axis":{"title":"(W/m²/K)","values":[-2,-1.8,-1.6,-1.4,-1.2,-1,-0.8,-0.6],"format":".1f"}},
                "color":{"datum":"b","type":"nominal","scale":{"domain":["r","b"],"range":["red","blue"]},
                         "legend":{"title":null,"orient":"bottom-right","offset":12,"symbolSize":2209,"symbolStrokeWidth":2,"clipHeight":20,"rowPadding":12,"labelOffset":16,"padding":9,"labelExpr":"datum.label=='r'?'+1%yr⁻¹CO₂':'-1%yr⁻¹CO₂'"}}}},
   {"data":{"name":"co2T"},"mark":{"type":"point","opacity":0},
    "encoding":{"x":{"field":"t","type":"quantitative",
      "axis":{"orient":"bottom","offset":75,"values":[0,70,140,210],"labelExpr":"datum.value==0?'1':datum.value==70?'2':datum.value==140?'4':'8'","title":"×CO₂","titleFontSize":25,"domain":true,"domainColor":"red","domainWidth":1.2,"tickColor":"red","labelColor":"red","titleColor":"red","titlePadding":1}},
      "y":{"datum":-1,"type":"quantitative","axis":{"title":"(W/m²/K)","values":[-2,-1.8,-1.6,-1.4,-1.2,-1,-0.8,-0.6],"format":".1f"}}}},
   {"data":{"name":"co2T"},"mark":{"type":"point","opacity":0},
    "encoding":{"x":{"field":"t","type":"quantitative",
      "axis":{"orient":"bottom","offset":150,"values":[0,70,140,210],"labelExpr":"datum.value==0?'1':datum.value==70?'0.5':datum.value==140?'0.25':'0.125'","title":"×CO₂","titleFontSize":25,"domain":true,"domainColor":"blue","domainWidth":1.2,"tickColor":"blue","labelColor":"blue","titleColor":"blue","titlePadding":1}},
      "y":{"datum":-1,"type":"quantitative","axis":{"title":"(W/m²/K)","values":[-2,-1.8,-1.6,-1.4,-1.2,-1,-0.8,-0.6],"format":".1f"}}}}
  ],
  "resolve":{"axis":{"x":"independent"}}
 },
 {
  "width":553,"height":360,
  "title":"d) ΔₐERF vs. ΔₐTₛ",
  "data":{"name":"sc"},
  "layer":[
   {"mark":{"type":"circle","size":180,"opacity":0.5},
    "encoding":{"x":{"field":"x","type":"quantitative","scale":{"domain":[-0.385,2.83],"nice":false,"zero":false},"axis":{"title":"ΔₐERF (W/m²)","values":[0,0.5,1,1.5,2,2.5],"format":".1f"}},
                "y":{"field":"y","type":"quantitative","scale":{"domain":[-0.36,3.826],"nice":false,"zero":false},"axis":{"title":"ΔₐTₛ (K)","values":[0,1,2,3]}},
                "color":{"datum":"r =0.96","type":"nominal","scale":{"range":["black"]},"legend":{"title":null,"orient":"top-left","offset":12,"symbolSize":200,"symbolOffset":12,"labelOffset":30,"padding":9}}}},
   {"transform":[{"regression":"y","on":"x"}],"mark":{"type":"line","color":"black","strokeWidth":3},
    "encoding":{"x":{"field":"x","type":"quantitative","axis":{"title":"ΔₐERF (W/m²)","values":[0,0.5,1,1.5,2,2.5],"format":".1f"}},
                "y":{"field":"y","type":"quantitative","axis":{"title":"ΔₐTₛ (K)","values":[0,1,2,3]}}}}
  ]
 }
],
"columns":2,
"spacing":{"row":268,"column":109},
"bounds":"flush"
}
